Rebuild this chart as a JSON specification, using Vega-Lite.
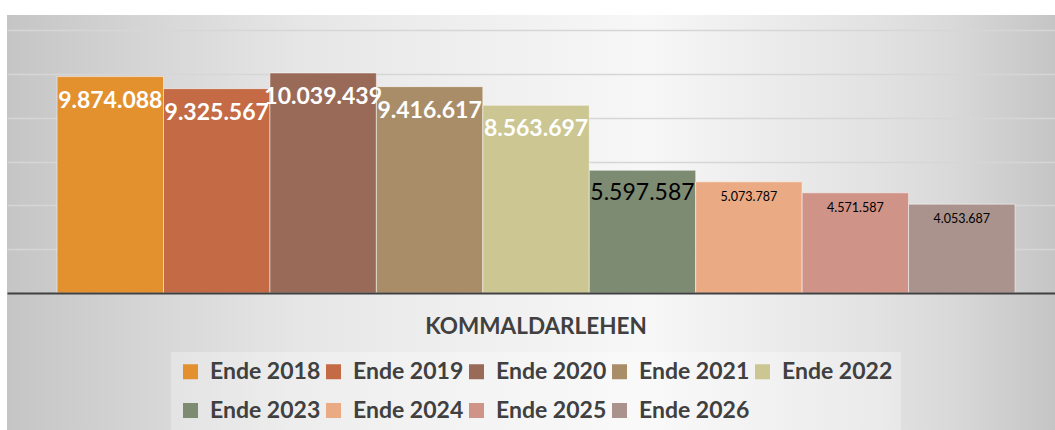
{
  "$schema": "https://vega.github.io/schema/vega-lite/v6.json",
  "width": 1048,
  "height": 415,
  "padding": {"left": 7, "top": 15, "right": 0, "bottom": 0},
  "autosize": {"type": "none"},
  "background": "#ffffff",
  "config": {
    "locale": {"number": {"decimal": ",", "thousands": ".", "grouping": [3], "currency": ["", " €"]}},
    "view": {
      "stroke": null,
      "fill": {
        "gradient": "linear",
        "x1": 0, "y1": 0, "x2": 1, "y2": 0,
        "stops": [
          {"offset": 0, "color": "#c5c5c5"},
          {"offset": 0.155, "color": "#d8d8d8"},
          {"offset": 0.28, "color": "#e6e6e6"},
          {"offset": 0.36, "color": "#ebebeb"},
          {"offset": 0.61, "color": "#f7f7f7"},
          {"offset": 0.83, "color": "#e2e2e2"},
          {"offset": 0.9, "color": "#d9d9d9"},
          {"offset": 1, "color": "#c5c5c5"}
        ]
      }
    },
    "font": "Lato"
  },
  "data": {
    "values": [
      {"cat": "KOMMALDARLEHEN", "series": "Ende 2018", "value": 9874088},
      {"cat": "KOMMALDARLEHEN", "series": "Ende 2019", "value": 9325567},
      {"cat": "KOMMALDARLEHEN", "series": "Ende 2020", "value": 10039439},
      {"cat": "KOMMALDARLEHEN", "series": "Ende 2021", "value": 9416617},
      {"cat": "KOMMALDARLEHEN", "series": "Ende 2022", "value": 8563697},
      {"cat": "KOMMALDARLEHEN", "series": "Ende 2023", "value": 5597587},
      {"cat": "KOMMALDARLEHEN", "series": "Ende 2024", "value": 5073787},
      {"cat": "KOMMALDARLEHEN", "series": "Ende 2025", "value": 4571587},
      {"cat": "KOMMALDARLEHEN", "series": "Ende 2026", "value": 4053687}
    ]
  },
  "encoding": {
    "x": {
      "field": "cat",
      "type": "nominal",
      "title": null,
      "scale": {"paddingInner": 0, "paddingOuter": 0.047, "align": 0.556},
      "axis": {
        "orient": "bottom",
        "offset": -137,
        "zindex": 1,
        "domain": true,
        "domainColor": "#404040",
        "domainWidth": 2,
        "ticks": false,
        "labelFont": "Lato",
        "labelFontWeight": "bold",
        "labelFontSize": 22.5,
        "labelColor": "#404040",
        "labelPadding": 22,
        "labelBaseline": "top",
        "labelAngle": 0,
        "labelLimit": 0,
        "grid": false
      }
    },
    "xOffset": {
      "field": "series",
      "type": "nominal",
      "scale": {"paddingInner": 0, "paddingOuter": 0}
    },
    "y": {
      "field": "value",
      "type": "quantitative",
      "stack": null,
      "title": null,
      "scale": {"domain": [-6251000, 12685000], "nice": false, "zero": false},
      "axis": {
        "values": [2000000, 4000000, 6000000, 8000000, 10000000, 12000000],
        "domain": false,
        "ticks": false,
        "labels": false,
        "grid": true,
        "gridColor": "#d6d6d6",
        "gridWidth": 1.5
      }
    }
  },
  "layer": [
    {
      "mark": {"type": "bar", "stroke": "#ffffff", "strokeOpacity": 0.5, "strokeWidth": 1},
      "encoding": {
        "color": {
          "field": "series",
          "type": "nominal",
          "scale": {
            "domain": ["Ende 2018", "Ende 2019", "Ende 2020", "Ende 2021", "Ende 2022", "Ende 2023", "Ende 2024", "Ende 2025", "Ende 2026"],
            "range": ["#e3902f", "#c46b45", "#9a6a58", "#a98d68", "#cbc692", "#7e8b73", "#eaaa84", "#cf9388", "#aa938d"]
          },
          "legend": {
            "title": null,
            "orient": "none",
            "legendX": 164,
            "legendY": 337,
            "direction": "horizontal",
            "columns": 5,
            "gridAlign": "all",
            "symbolType": "square",
            "symbolSize": 225,
            "symbolStrokeWidth": 0,
            "labelFont": "Lato",
            "labelFontWeight": "bold",
            "labelFontSize": 23,
            "labelColor": "#404040",
            "labelOffset": 8,
            "labelLimit": 300,
            "columnPadding": 1,
            "rowPadding": 15,
            "padding": 8,
            "fillColor": "rgba(255,255,255,0.3)"
          }
        }
      }
    },
    {
      "transform": [{"filter": {"field": "series", "oneOf": ["Ende 2018", "Ende 2019", "Ende 2020", "Ende 2021", "Ende 2022"]}}],
      "mark": {"type": "text", "font": "Lato", "fontWeight": "bold", "fontSize": 23, "color": "#ffffff", "align": "center", "baseline": "middle", "dy": 24},
      "encoding": {"text": {"field": "value", "type": "quantitative", "format": ",d"}}
    },
    {
      "transform": [{"filter": {"field": "series", "equal": "Ende 2023"}}],
      "mark": {"type": "text", "font": "Lato", "fontSize": 23, "color": "#000000", "align": "center", "baseline": "middle", "dy": 23},
      "encoding": {"text": {"field": "value", "type": "quantitative", "format": ",d"}}
    },
    {
      "transform": [{"filter": {"field": "series", "oneOf": ["Ende 2024", "Ende 2025", "Ende 2026"]}}],
      "mark": {"type": "text", "font": "Lato", "fontSize": 12.5, "color": "#000000", "align": "center", "baseline": "middle", "dy": 15},
      "encoding": {"text": {"field": "value", "type": "quantitative", "format": ",d"}}
    }
  ]
}
